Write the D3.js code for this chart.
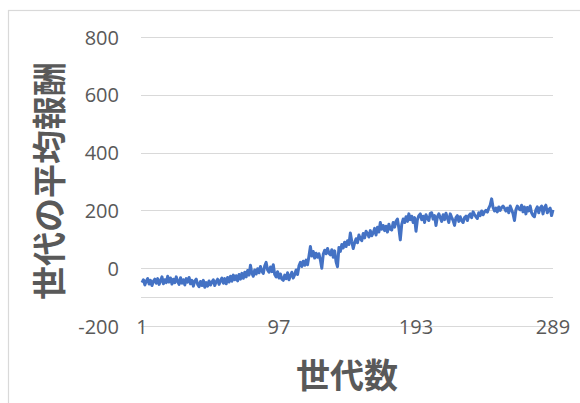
<!DOCTYPE html>
<html>
<head>
<meta charset="utf-8">
<script src="https://cdn.jsdelivr.net/npm/d3@7"></script>
<style>
  body { margin: 0; background: #fff; }
  svg { display: block; }
</style>
</head>
<body>
<svg id="chart" width="580" height="403"></svg>
<script>
// 世代ごとの平均報酬
const heikinHoshu = [
  -50, -40, -58, -44, -36, -55, -42, -60, -45, -38,
  -52, -36, -56, -44, -30, -54, -40, -50, -28, -48,
  -34, -55, -38, -50, -30, -46, -56, -33, -52, -40,
  -58, -36, -48, -32, -54, -42, -62, -45, -38, -56,
  -64, -46, -60, -42, -66, -50, -62, -44, -58, -48,
  -40, -60, -46, -38, -56, -43, -34, -52, -36, -54,
  -32, -48, -28, -45, -24, -40, -26, -44, -22, -38,
  -18, -35, -14, -30, -8, -24, 10, -18, -28, -6,
  -20, -2, -16, 6, -10, -18, 8, 20, -6, -14,
  4, -12, 12, -22, -30, -12, -34, -20, -38, -42,
  -24, -36, -16, -40, -26, -14, -34, -22, -6, -22,
  8, 20, 6, 24, 10, 28, 12, 42, 75, 42,
  58, 35, 52, 38, 50, 28, 0, 48, 62, 50,
  68, 52, 46, 64, 38, 60, 22, 5, 72, 58,
  82, 70, 90, 75, 95, 82, 122, 92, 68, 88,
  102, 88, 115, 102, 95, 120, 105, 128, 120, 108,
  130, 112, 122, 138, 115, 142, 125, 158, 135, 148,
  130, 145, 125, 152, 135, 132, 158, 142, 162, 170,
  138, 98, 152, 170, 158, 178, 162, 188, 168, 180,
  158, 175, 128, 168, 182, 188, 168, 180, 158, 185,
  172, 165, 190, 192, 170, 182, 148, 178, 188, 175,
  162, 185, 168, 190, 174, 158, 188, 176, 165, 148,
  175, 182, 162, 178, 165, 158, 175, 180, 165, 182,
  188, 175, 195, 186, 178, 172, 192, 182, 198, 185,
  195, 200, 194, 208, 218, 240, 210, 198, 208, 195,
  212, 200, 210, 215, 208, 198, 208, 192, 215, 202,
  188, 165, 202, 215, 206, 202, 218, 195, 212, 188,
  210, 198, 215, 192, 182, 178, 202, 212, 192, 208,
  215, 188, 210, 218, 192, 202, 208, 182, 202
];
const yTicks = [-200, 0, 200, 400, 600, 800];
const xTicks = [1, 97, 193, 289];
const axisCross = -100;   // 横軸の線
const yTitle = "世代の平均報酬";
const xTitle = "世代数";

const svg = d3.select("#chart");
const textColor = "#595959";
const gridColor = "#d9d9d9";

// 外枠
svg.append("rect")
  .attr("x", 8.5).attr("y", 10.5)
  .attr("width", 600).attr("height", 420)
  .attr("fill", "none").attr("stroke", gridColor).attr("stroke-width", 1.2);

const x = d3.scaleLinear().domain([1, 289]).range([142, 553]);
const y = d3.scaleLinear().domain([-200, 800]).range([326, 37]);

// 目盛線
svg.append("g").selectAll("line")
  .data(yTicks.concat([axisCross]))
  .join("line")
  .attr("x1", 141).attr("x2", 553)
  .attr("y1", d => Math.round(y(d)) + 0.5)
  .attr("y2", d => Math.round(y(d)) + 0.5)
  .attr("stroke", gridColor).attr("stroke-width", 1.2);

// 縦軸ラベル
svg.append("g").selectAll("text")
  .data(yTicks)
  .join("text")
  .attr("x", 119).attr("y", d => y(d))
  .attr("text-anchor", "end")
  .attr("dominant-baseline", "central")
  .attr("font-family", "'Open Sans', sans-serif")
  .attr("font-size", 20)
  .attr("fill", textColor)
  .text(d => d);

// 横軸ラベル
svg.append("g").selectAll("text")
  .data(xTicks)
  .join("text")
  .attr("x", d => x(d)).attr("y", y(-200))
  .attr("text-anchor", "middle")
  .attr("dominant-baseline", "central")
  .attr("font-family", "'Open Sans', sans-serif")
  .attr("font-size", 20)
  .attr("fill", textColor)
  .text(d => d);

// 折れ線
const line = d3.line()
  .x((d, i) => x(i + 1))
  .y(d => y(d));

svg.append("path")
  .datum(heikinHoshu)
  .attr("d", line)
  .attr("fill", "none")
  .attr("stroke", "#4472C4")
  .attr("stroke-width", 3)
  .attr("stroke-linejoin", "round");

// 軸タイトル
svg.append("text")
  .attr("transform", "translate(47,181) rotate(-90)")
  .attr("text-anchor", "middle")
  .attr("dominant-baseline", "central")
  .attr("font-family", "'Noto Sans CJK JP', sans-serif")
  .attr("font-weight", "bold")
  .attr("font-size", 34)
  .attr("fill", textColor)
  .text(yTitle);

svg.append("text")
  .attr("x", 347).attr("y", 373)
  .attr("text-anchor", "middle")
  .attr("dominant-baseline", "central")
  .attr("font-family", "'Noto Sans CJK JP', sans-serif")
  .attr("font-weight", "bold")
  .attr("font-size", 34)
  .attr("fill", textColor)
  .text(xTitle);
</script>
</body>
</html>
